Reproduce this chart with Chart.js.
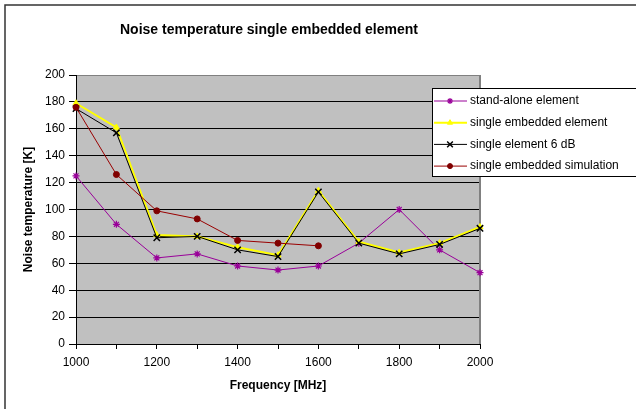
<!DOCTYPE html>
<html>
<head>
<meta charset="utf-8">
<script src="https://cdn.jsdelivr.net/npm/chart.js@4.4.1/dist/chart.umd.min.js"></script>
<style>
    body { margin: 0; background: #fff; }
    #wrap { width: 636px; height: 409px; }
</style>
</head>
<body>
<div id="wrap"><canvas id="chart" width="636" height="409"></canvas></div>
<script>
// values
const chartTitle = 'Noise temperature single embedded element';
const freqs = [1000, 1100, 1200, 1300, 1400, 1500, 1600, 1700, 1800, 1900, 2000];
const xTickLabels = [1000, 1200, 1400, 1600, 1800, 2000];
const standAlone = [125, 89, 64, 67, 58, 55, 58, 75, 100, 70, 53];
const singleEmbedded = [179, 161, 81, 80, 72, 66, 114, 76, 68, 75, 87];
const single6dB = [175, 157, 79, 80, 70, 65, 113, 75, 67, 74, 86];
const simulation = [176, 126, 99, 93, 77, 75, 73];

const FONT = 'Arial, "Liberation Sans", sans-serif';

function toPoints(values) {
    return values.map((v, i) => ({x: freqs[i], y: v}));
}

// gray plot area, outer frame, title
const backgroundPlugin = {
    id: 'background',
    beforeDraw(chart) {
        const ctx = chart.ctx;
        const a = chart.chartArea;
        ctx.save();
        ctx.fillStyle = '#fff';
        ctx.fillRect(0, 0, chart.width, chart.height);
        ctx.fillStyle = '#C0C0C0';
        ctx.fillRect(a.left, a.top, a.right - a.left, a.bottom - a.top);
        ctx.strokeStyle = '#333';
        ctx.lineWidth = 1.5;
        ctx.beginPath();
        ctx.moveTo(5, chart.height);
        ctx.lineTo(5, 5);
        ctx.lineTo(chart.width, 5);
        ctx.stroke();
        // title is centred on the original (wider) chart, not on this crop
        ctx.fillStyle = '#000';
        ctx.font = 'bold 14px ' + FONT;
        ctx.textAlign = 'center';
        ctx.textBaseline = 'middle';
        ctx.fillText(chartTitle, 269, 30);
        ctx.restore();
    },
    beforeDatasetsDraw(chart) {
        const ctx = chart.ctx;
        const a = chart.chartArea;
        ctx.save();
        ctx.strokeStyle = '#808080';
        ctx.lineWidth = 2;
        ctx.beginPath();
        ctx.moveTo(a.right, a.top);
        ctx.lineTo(a.right, a.bottom);
        ctx.stroke();
        ctx.restore();
    }
};

// legend box overlapping the plot, like the original
const boxLegendPlugin = {
    id: 'boxLegend',
    afterDraw(chart) {
        const ctx = chart.ctx;
        const left = 432, top = 88, width = 210, height = 88;
        ctx.save();
        ctx.fillStyle = '#fff';
        ctx.fillRect(left, top, width, height);
        ctx.strokeStyle = '#000';
        ctx.lineWidth = 1;
        ctx.strokeRect(left + 0.5, top + 0.5, width, height);
        ctx.font = '12px ' + FONT;
        ctx.textBaseline = 'middle';
        chart.data.datasets.forEach((ds, i) => {
            let y = top + 13 + i * 21.7;
            ctx.strokeStyle = ds.borderColor;
            ctx.lineWidth = ds.borderWidth;
            ctx.beginPath();
            ctx.moveTo(left + 2, y);
            ctx.lineTo(left + 35, y);
            ctx.stroke();
            ctx.fillStyle = ds.pointBackgroundColor;
            ctx.strokeStyle = ds.pointBorderColor;
            ctx.lineWidth = ds.pointBorderWidth;
            Chart.helpers.drawPoint(ctx, {
                pointStyle: ds.pointStyle,
                radius: ds.pointRadius - 0.5,
                rotation: 0,
                borderWidth: ds.pointBorderWidth
            }, left + 18, y);
            ctx.fillStyle = '#000';
            ctx.fillText(ds.label, left + 38, y);
        });
        ctx.restore();
    }
};

new Chart(document.getElementById('chart'), {
    type: 'line',
    data: {
        datasets: [
            {
                label: 'stand-alone element',
                data: toPoints(standAlone),
                borderColor: '#990099',
                borderWidth: 1,
                pointStyle: 'star',
                pointRadius: 3.5,
                pointBackgroundColor: '#990099',
                pointBorderColor: '#990099',
                pointBorderWidth: 1.2,
                order: 3
            },
            {
                label: 'single embedded element',
                data: toPoints(singleEmbedded),
                borderColor: '#FFFF00',
                borderWidth: 2,
                pointStyle: 'triangle',
                pointRadius: 3.5,
                pointBackgroundColor: '#FFFF00',
                pointBorderColor: '#FFFF00',
                pointBorderWidth: 1,
                order: 2
            },
            {
                label: 'single element 6 dB',
                data: toPoints(single6dB),
                borderColor: '#000000',
                borderWidth: 1,
                pointStyle: 'crossRot',
                pointRadius: 4.5,
                pointBackgroundColor: '#000000',
                pointBorderColor: '#000000',
                pointBorderWidth: 1.5,
                order: 1
            },
            {
                label: 'single embedded simulation',
                data: toPoints(simulation),
                borderColor: '#990000',
                borderWidth: 1,
                pointStyle: 'circle',
                pointRadius: 3,
                pointBackgroundColor: '#800000',
                pointBorderColor: '#800000',
                pointBorderWidth: 1,
                order: 0
            }
        ]
    },
    options: {
        responsive: false,
        animation: false,
        clip: false,
        layout: {padding: {left: 0, right: 156, top: 75, bottom: 0}},
        plugins: {
            legend: {display: false},
            tooltip: {enabled: false},
            title: {display: false}
        },
        scales: {
            x: {
                type: 'linear',
                min: 1000,
                max: 2000,
                afterBuildTicks(scale) {
                    scale.ticks = freqs.map(f => ({value: f}));
                },
                afterFit(scale) { scale.height = 65; },
                ticks: {
                    color: '#000',
                    padding: 6,
                    maxRotation: 0,
                    autoSkip: false,
                    font: {family: FONT, size: 12},
                    callback: (v) => xTickLabels.includes(v) ? String(v) : ''
                },
                grid: {drawOnChartArea: false, tickLength: 5, tickColor: '#000'},
                border: {color: '#000', width: 1},
                title: {
                    display: true,
                    text: 'Frequency [MHz]',
                    color: '#000',
                    font: {family: FONT, size: 12, weight: 'bold'},
                    padding: {top: 0, bottom: 16}
                }
            },
            y: {
                min: 0,
                max: 200,
                afterFit(scale) { scale.width = 76; },
                ticks: {
                    stepSize: 20,
                    color: '#000',
                    padding: 4,
                    font: {family: FONT, size: 12}
                },
                grid: {
                    color: (c) => c.tick && c.tick.value === 200 ? '#808080' : '#000',
                    lineWidth: 1,
                    tickLength: 7,
                    tickColor: '#000'
                },
                border: {color: '#000', width: 1},
                title: {
                    display: true,
                    text: 'Noise temperature [K]',
                    color: '#000',
                    font: {family: FONT, size: 12, weight: 'bold'},
                    padding: {top: 21, bottom: 0}
                }
            }
        }
    },
    plugins: [backgroundPlugin, boxLegendPlugin]
});
</script>
</body>
</html>
